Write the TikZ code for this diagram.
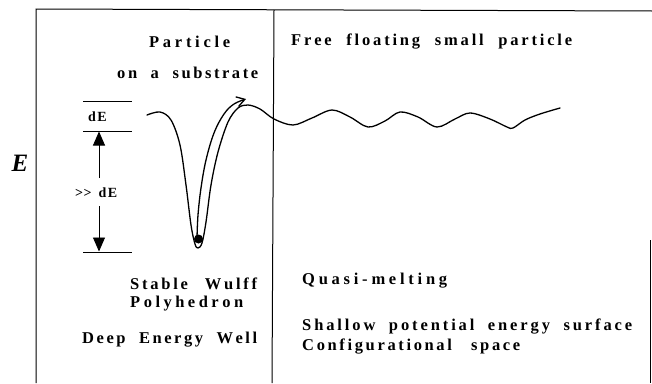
\documentclass[tikz,border=0pt]{standalone}
\usepackage{fontspec}
\setmainfont{Liberation Serif}
\usetikzlibrary{arrows.meta}
\makeatletter
\def\spr@end{\spr@end}
\def\spr@A#1{#1\spr@B}
\def\spr@B#1{\ifx#1\spr@end\else\ifx#1|\hskip 0.2em plus \spr@w fil\relax\else\hskip 0pt plus 1fil\relax#1\fi\expandafter\spr@B\fi}
\newcommand\spread[3][3]{\def\spr@w{#1}\hbox to #2{\spr@A#3\spr@end}}
\makeatother
\tikzset{
  lbl/.style={inner sep=0pt, anchor=west, font=\bfseries\fontsize{16.5}{18}\selectfont},
  small/.style={inner sep=0pt, anchor=west, font=\bfseries\fontsize{14}{16}\selectfont},
  frame/.style={line width=1pt},
  level/.style={line width=0.9pt},
  solid arrow/.style={line width=0.9pt, -{Triangle[length=14pt,width=12pt]}},
  curve/.style={line width=1.3pt, line join=round, line cap=round}
}
\begin{document}
\begin{tikzpicture}[x=1pt,y=-1pt]
\useasboundingbox (0,0) rectangle (652,383);
% frame
\coordinate (tl) at (36,9);
\coordinate (tr) at (652,11);
\coordinate (bl) at (36,383);
\coordinate (dt) at (274,10);
\coordinate (db) at (272,383);
\coordinate (rt) at (650.5,240);
\coordinate (rb) at (650.5,383);
\draw[frame] (bl) -- (tl) -- (tr);
\draw[frame] (dt) -- (db);
\draw[frame] (rt) -- (rb);
% texts
\node[lbl] (p1) at (149,42) {\spread{81pt}{Particle}};
\node[lbl] (p2) at (117,73) {\spread{141pt}{on|a|substrate}};
\node[lbl] (ff) at (291,42) {\spread{281pt}{Free|floating|small|particle}};
\node[lbl] (sw) at (130,284) {\spread[4]{127pt}{Stable|Wulff}};
\node[lbl] (ph) at (130,304) {\spread{113pt}{Polyhedron}};
\node[lbl] (dw) at (82,340) {\spread{175pt}{Deep|Energy|Well}};
\node[lbl] (qm) at (302,281) {\spread{145pt}{Quasi-melting}};
\node[lbl] (sp) at (302,327) {\spread[2.5]{330pt}{Shallow|potential|energy|surface}};
\node[lbl] (cs) at (302,347) {\spread[5]{218pt}{Configurational|space}};
\node[inner sep=0pt, font=\bfseries\itshape\fontsize{25}{28}\selectfont] (E) at (20,163) {E};
% dE scale
\coordinate (l1a) at (83,101); \coordinate (l1b) at (132,101);
\coordinate (l2a) at (83,131); \coordinate (l2b) at (132,131);
\coordinate (l3a) at (83,252); \coordinate (l3b) at (132,252);
\draw[level] (l1a) -- (l1b);
\draw[level] (l2a) -- (l2b);
\draw[level] (l3a) -- (l3b);
\node[small] (dE) at (88,117) {d\kern1.5pt E};
\node[small] (gg) at (75,193) {{>}\kern0.5pt{>}\hspace{7pt}d\kern1.5pt E};
\coordinate (upS) at (99,178);
\coordinate (upE) at (99,131.5);
\coordinate (dnS) at (99,206);
\coordinate (dnE) at (99,251.5);
\draw[solid arrow] (upS) -- (upE);
\draw[solid arrow] (dnS) -- (dnE);
% potential curve
\draw[curve] plot[smooth, tension=0.55] coordinates {
 (147,115) (160,112) (171,120) (180,145) (186,185) (191,225) (195,244) (198,248)
 (202,243) (206,222) (211,185) (218,152) (228,122) (238,108) (248,105) (260,109)
 (274,119) (293,125) (312,118) (332,110) (350,117) (368,127) (385,121) (400,112)
 (418,117) (437,127) (455,119) (470,113) (490,119) (507,127) (513,128) (525,120)
 (540,114) (560,108)};
% ball and escape path
\node[circle, fill=black, inner sep=0pt, minimum size=9pt] (ball) at (198.5,239) {};
\draw[line width=1.3pt, -{Straight Barb[length=8pt,width=10pt]}] plot[smooth, tension=0.6] coordinates {
 (197,238) (198,215) (201,188) (206,160) (214,133) (224,114) (234,104) (246,99)};
\end{tikzpicture}
\end{document}
